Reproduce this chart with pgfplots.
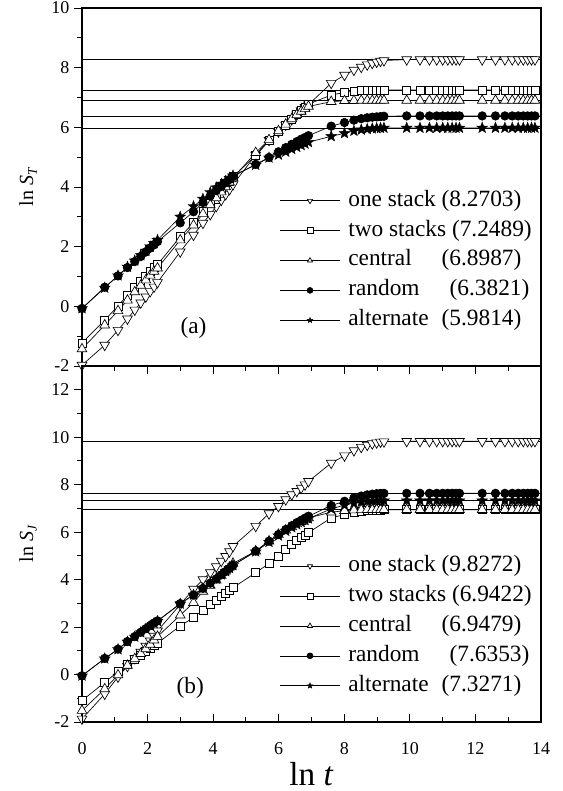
\documentclass[border=0pt]{standalone}
\usepackage{fontspec}
\setmainfont{Liberation Serif}
\usepackage{pgfplots}
\usepackage{pgfplotstable}
\pgfplotsset{compat=1.18}
\usetikzlibrary{plotmarks}

\pgfdeclareplotmark{fstar}{%
  \pgfpathmoveto{\pgfqpointpolar{90}{\pgfplotmarksize}}%
  \pgfpathlineto{\pgfqpointpolar{126}{0.42\pgfplotmarksize}}%
  \pgfpathlineto{\pgfqpointpolar{162}{\pgfplotmarksize}}%
  \pgfpathlineto{\pgfqpointpolar{198}{0.42\pgfplotmarksize}}%
  \pgfpathlineto{\pgfqpointpolar{234}{\pgfplotmarksize}}%
  \pgfpathlineto{\pgfqpointpolar{270}{0.42\pgfplotmarksize}}%
  \pgfpathlineto{\pgfqpointpolar{306}{\pgfplotmarksize}}%
  \pgfpathlineto{\pgfqpointpolar{342}{0.42\pgfplotmarksize}}%
  \pgfpathlineto{\pgfqpointpolar{18}{\pgfplotmarksize}}%
  \pgfpathlineto{\pgfqpointpolar{54}{0.42\pgfplotmarksize}}%
  \pgfpathclose
  \pgfusepathqfillstroke
}

\pgfplotstableread{
x one two cen ran alt
0.0000 -1.97 -1.23 -1.43 -0.07 -0.07
0.6931 -1.30 -0.46 -0.63 0.64 0.62
1.0986 -0.80 0.01 -0.15 1.02 1.03
1.3863 -0.42 0.38 0.20 1.30 1.32
1.6094 -0.12 0.64 0.48 1.50 1.53
1.7918 0.12 0.84 0.70 1.67 1.71
1.9459 0.32 1.02 0.88 1.82 1.86
2.0794 0.50 1.17 1.04 1.95 2.00
2.1972 0.65 1.30 1.17 2.06 2.12
2.3026 0.80 1.40 1.28 2.17 2.22
2.9957 1.83 2.33 2.22 2.80 3.00
3.4012 2.39 2.80 2.72 3.17 3.35
3.6889 2.79 3.17 3.10 3.48 3.60
3.9120 3.08 3.45 3.40 3.70 3.82
4.0943 3.35 3.68 3.63 3.88 3.98
4.2485 3.56 3.88 3.83 4.02 4.10
4.3820 3.75 4.04 4.00 4.14 4.20
4.4998 3.92 4.20 4.16 4.25 4.30
4.6052 4.08 4.35 4.30 4.35 4.38
5.2983 5.07 5.05 5.15 4.76 4.74
5.7038 5.57 5.55 5.58 4.99 4.98
5.9915 5.85 5.85 5.88 5.18 5.08
6.2146 6.08 6.08 6.10 5.32 5.18
6.3969 6.26 6.26 6.28 5.43 5.27
6.5511 6.42 6.42 6.42 5.52 5.34
6.6846 6.56 6.56 6.53 5.60 5.40
6.8024 6.67 6.67 6.62 5.66 5.45
6.9078 6.76 6.78 6.70 5.72 5.50
7.6009 7.48 7.08 6.86 6.04 5.70
8.0064 7.75 7.17 6.89 6.16 5.80
8.2940 7.92 7.21 6.895 6.24 5.88
8.5172 8.02 7.23 6.898 6.29 5.92
8.6995 8.10 7.24 6.899 6.32 5.94
8.8537 8.15 7.245 6.899 6.34 5.96
8.9872 8.19 7.248 6.899 6.35 5.97
9.1050 8.22 7.249 6.899 6.36 5.975
9.2103 8.24 7.249 6.899 6.37 5.98
9.9035 8.27 7.249 6.899 6.382 5.981
10.3090 8.27 7.249 6.899 6.382 5.981
10.5966 8.27 7.249 6.899 6.382 5.981
10.8198 8.27 7.249 6.899 6.382 5.981
11.0021 8.27 7.249 6.899 6.382 5.981
11.1563 8.27 7.249 6.899 6.382 5.981
11.2898 8.27 7.249 6.899 6.382 5.981
11.4076 8.27 7.249 6.899 6.382 5.981
11.5129 8.27 7.249 6.899 6.382 5.981
12.2061 8.27 7.249 6.899 6.382 5.981
12.6115 8.27 7.249 6.899 6.382 5.981
12.8992 8.27 7.249 6.899 6.382 5.981
13.1224 8.27 7.249 6.899 6.382 5.981
13.3047 8.27 7.249 6.899 6.382 5.981
13.4589 8.27 7.249 6.899 6.382 5.981
13.5924 8.27 7.249 6.899 6.382 5.981
13.7102 8.27 7.249 6.899 6.382 5.981
13.8155 8.27 7.249 6.899 6.382 5.981
}\toptable

\pgfplotstableread{
x one two cen ran alt
0.0000 -1.87 -1.10 -1.52 -0.05 -0.05
0.6931 -0.82 -0.33 -0.61 0.68 0.67
1.0986 -0.10 0.12 -0.02 1.07 1.06
1.3863 0.35 0.42 0.38 1.39 1.38
1.6094 0.68 0.65 0.66 1.60 1.59
1.7918 0.95 0.82 0.88 1.78 1.77
1.9459 1.20 0.97 1.08 1.93 1.92
2.0794 1.42 1.10 1.27 2.06 2.05
2.1972 1.62 1.22 1.45 2.17 2.16
2.3026 1.84 1.32 1.60 2.26 2.25
2.9957 2.95 2.05 2.50 2.99 2.98
3.4012 3.60 2.40 3.03 3.35 3.36
3.6889 4.00 2.72 3.50 3.63 3.64
3.9120 4.30 2.95 3.75 3.85 3.86
4.0943 4.55 3.12 3.97 4.03 4.04
4.2485 4.78 3.30 4.17 4.20 4.21
4.3820 4.98 3.43 4.35 4.34 4.35
4.4998 5.18 3.55 4.52 4.47 4.48
4.6052 5.40 3.66 4.68 4.60 4.60
5.2983 6.25 4.29 5.20 5.20 5.18
5.7038 6.78 4.68 5.62 5.62 5.58
5.9915 7.09 5.00 5.90 5.90 5.85
6.2146 7.37 5.28 6.08 6.11 6.05
6.3969 7.58 5.48 6.22 6.27 6.20
6.5511 7.72 5.64 6.34 6.40 6.32
6.6846 7.86 5.77 6.44 6.50 6.42
6.8024 8.00 5.88 6.52 6.59 6.50
6.9078 8.14 5.98 6.60 6.67 6.57
7.6009 8.91 6.60 6.84 7.12 6.98
8.0064 9.22 6.74 6.90 7.30 7.14
8.2940 9.44 6.82 6.93 7.44 7.22
8.5172 9.58 6.87 6.94 7.52 7.27
8.6995 9.67 6.90 6.945 7.57 7.30
8.8537 9.73 6.92 6.947 7.60 7.31
8.9872 9.77 6.93 6.948 7.62 7.32
9.1050 9.80 6.935 6.948 7.63 7.325
9.2103 9.81 6.94 6.948 7.633 7.327
9.9035 9.827 6.942 6.948 7.635 7.327
10.3090 9.827 6.942 6.948 7.635 7.327
10.5966 9.827 6.942 6.948 7.635 7.327
10.8198 9.827 6.942 6.948 7.635 7.327
11.0021 9.827 6.942 6.948 7.635 7.327
11.1563 9.827 6.942 6.948 7.635 7.327
11.2898 9.827 6.942 6.948 7.635 7.327
11.4076 9.827 6.942 6.948 7.635 7.327
11.5129 9.827 6.942 6.948 7.635 7.327
12.2061 9.827 6.942 6.948 7.635 7.327
12.6115 9.827 6.942 6.948 7.635 7.327
12.8992 9.827 6.942 6.948 7.635 7.327
13.1224 9.827 6.942 6.948 7.635 7.327
13.3047 9.827 6.942 6.948 7.635 7.327
13.4589 9.827 6.942 6.948 7.635 7.327
13.5924 9.827 6.942 6.948 7.635 7.327
13.7102 9.827 6.942 6.948 7.635 7.327
13.8155 9.827 6.942 6.948 7.635 7.327
}\bottable

\pgfplotsset{
  panel/.style={
    scale only axis, width=344.25pt,
    xmin=0, xmax=14, xtick={0,2,...,14}, minor x tick num=1, minor y tick num=1,
    xtick pos=bottom, ytick pos=left,
    tick align=outside, major tick length=6pt, minor tick length=3.5pt,
    axis line style={line width=0.8pt}, tick style={line width=0.7pt, black},
    ticklabel style={font=\fontsize{13.5}{16}\selectfont},
    /pgf/number format/assume math mode=true,
    clip=true,
    every axis y label/.style={at={(axis description cs:-0.1176,0.5)},rotate=90,anchor=center,font=\fontsize{15}{18}\selectfont},
    every axis x label/.style={at={(axis description cs:0.5,-0.177)},anchor=base,inner sep=0pt,font=\fontsize{25}{30}\selectfont},
    legend style={draw=none, fill=none, font=\fontsize{17.5}{20}\selectfont,
      nodes={inner sep=1pt, text height=12pt, text depth=4pt},
      row sep=4.4pt,
      /tikz/every odd column/.append style={column sep=5pt}},
    legend cell align=left,
    legend image code/.code={\draw[mark repeat=2,mark phase=2,#1,mark size=2.2pt] plot coordinates {(0pt,0pt) (22.5pt,0pt) (45pt,0pt)};},
  },
  hl/.style={black, line width=0.5pt, no marks, forget plot},
  s1/.style={black, line width=0.5pt, mark=triangle*, mark size=4.2pt, mark options={rotate=180, fill=white, line width=0.5pt}},
  s2/.style={black, line width=0.5pt, mark=square*, mark size=3pt, mark options={fill=white, line width=0.5pt}},
  s3/.style={black, line width=0.5pt, mark=triangle*, mark size=4.2pt, mark options={fill=white, line width=0.5pt}},
  s4/.style={black, line width=0.5pt, mark=*, mark size=3.2pt, mark options={fill=black}},
  s5/.style={black, line width=0.5pt, mark=fstar, mark size=4.3pt, mark options={fill=black, line width=0.3pt}},
}

\begin{document}
\begin{tikzpicture}
\useasboundingbox (-61.5pt,-51.75pt) rectangle (360pt,541.5pt);

% top panel
\begin{axis}[panel, height=268.5pt, at={(0,267pt)}, anchor=south west,
  ymin=-2, ymax=10, ytick={-2,0,...,10}, xticklabels={},
  ylabel={ln \textit{S}\raisebox{-0.4ex}{\fontsize{10}{12}\selectfont\textit{T}}},
  legend style={at={(rel axis cs:0.992,0.086)}, anchor=south east}]
\addplot[hl] coordinates {(0,8.2703) (14,8.2703)};
\addplot[hl] coordinates {(0,7.2489) (14,7.2489)};
\addplot[hl] coordinates {(0,6.8987) (14,6.8987)};
\addplot[hl] coordinates {(0,6.3821) (14,6.3821)};
\addplot[hl] coordinates {(0,5.9814) (14,5.9814)};
\addplot[s1] table[x=x, y=one] {\toptable};
\addplot[s2] table[x=x, y=two] {\toptable};
\addplot[s3] table[x=x, y=cen] {\toptable};
\addplot[s4] table[x=x, y=ran] {\toptable};
\addplot[s5] table[x=x, y=alt] {\toptable};
\addlegendentry{\makebox[70pt][l]{one stack}(8.2703)}
\addlegendentry{two stacks (7.2489)}
\addlegendentry{\makebox[70pt][l]{central}(6.8987)}
\addlegendentry{\makebox[76pt][l]{random}(6.3821)}
\addlegendentry{\makebox[70pt][l]{alternate}(5.9814)}
\node[font=\fontsize{17.5}{20}\selectfont] at (axis cs:3.4,-0.73) {(a)};
\end{axis}

% bottom panel
\begin{axis}[panel, height=267pt, at={(0,0)}, anchor=south west,
  ymin=-2, ymax=13, ytick={-2,0,...,12},
  xtick style={draw=none},
  xticklabel style={yshift=-6pt},
  xlabel={ln \textit{t}},
  ylabel={ln \textit{S}\raisebox{-0.4ex}{\fontsize{10}{12}\selectfont\textit{J}}},
  legend style={at={(rel axis cs:0.992,0.06)}, anchor=south east}]
\addplot[hl] coordinates {(0,9.8272) (14,9.8272)};
\addplot[hl] coordinates {(0,6.9422) (14,6.9422)};
\addplot[hl] coordinates {(0,6.9479) (14,6.9479)};
\addplot[hl] coordinates {(0,7.6353) (14,7.6353)};
\addplot[hl] coordinates {(0,7.3271) (14,7.3271)};
\addplot[s1] table[x=x, y=one] {\bottable};
\addplot[s2] table[x=x, y=two] {\bottable};
\addplot[s3] table[x=x, y=cen] {\bottable};
\addplot[s4] table[x=x, y=ran] {\bottable};
\addplot[s5] table[x=x, y=alt] {\bottable};
\addlegendentry{\makebox[70pt][l]{one stack}(9.8272)}
\addlegendentry{two stacks (6.9422)}
\addlegendentry{\makebox[70pt][l]{central}(6.9479)}
\addlegendentry{\makebox[76pt][l]{random}(7.6353)}
\addlegendentry{\makebox[70pt][l]{alternate}(7.3271)}
\node[font=\fontsize{17.5}{20}\selectfont] at (axis cs:3.3,-0.57) {(b)};
\end{axis}

% inward x ticks of the bottom panel
\begin{axis}[scale only axis, width=344.25pt, height=267pt, at={(0,0)}, anchor=south west,
  xmin=0, xmax=14, ymin=-2, ymax=13,
  axis x line*=bottom, axis y line=none,
  xtick={0,2,...,14}, minor x tick num=1, xticklabels={},
  tick align=inside, major tick length=6pt, minor tick length=3.5pt,
  axis line style={line width=0.8pt, -}, tick style={line width=0.7pt, black}]
\end{axis}
\end{tikzpicture}
\end{document}
